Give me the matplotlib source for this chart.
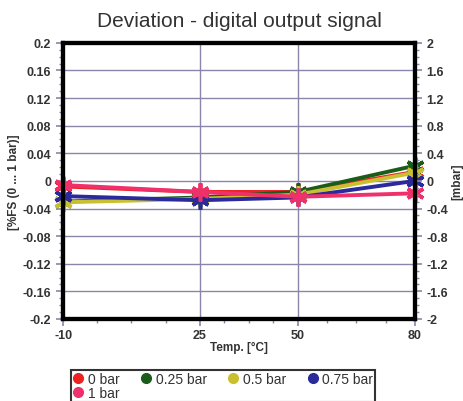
import numpy as np
import matplotlib
matplotlib.use("Agg")
import matplotlib.pyplot as plt
from matplotlib.ticker import FixedLocator

plt.rcParams["font.family"] = ["Liberation Sans", "DejaVu Sans"]
plt.rcParams["axes.unicode_minus"] = False

# ── Data ───────────────────────────────────────────────────────────────────────
temps = [-10, 25, 50, 80]
series_names = ["0 bar", "0.25 bar", "0.5 bar", "0.75 bar", "1 bar"]
dev_0bar = [-0.008, -0.016, -0.016, 0.013]
dev_025bar = [-0.030, -0.024, -0.016, 0.022]
dev_05bar = [-0.031, -0.026, -0.020, 0.012]
dev_075bar = [-0.022, -0.028, -0.024, 0.000]
dev_1bar = [-0.006, -0.016, -0.023, -0.018]
colors = ["#ee2222", "#1a5c1a", "#c8c030", "#2a2a9a", "#f0306a"]

left_ticks = [-0.2, -0.16, -0.12, -0.08, -0.04, 0, 0.04, 0.08, 0.12, 0.16, 0.2]
right_ticks = [-2, -1.6, -1.2, -0.8, -0.4, 0, 0.4, 0.8, 1.2, 1.6, 2]

series = [dev_0bar, dev_025bar, dev_05bar, dev_075bar, dev_1bar]

# ── Plot ───────────────────────────────────────────────────────────────────────
fig = plt.figure(figsize=(4.64, 4.02), dpi=100)
ax = fig.add_axes([0.136, 0.204, 0.758, 0.687])

grid_col = "#8a86a8"
txt_col = "#333333"
for y in left_ticks[1:-1]:
    ax.axhline(y, color=grid_col, lw=1.0, zorder=1)
for x in temps[1:-1]:
    ax.axvline(x, color=grid_col, lw=1.0, zorder=1)

for vals, c in zip(series, colors):
    ax.plot(temps, vals, color=c, lw=2.8, marker=(6, 2, 0), ms=13, mew=2.6,
            zorder=3, clip_on=False)

ax.set_xlim(-10, 80)
ax.set_ylim(-0.2, 0.2)
ax.set_xticks(temps)
ax.set_xticklabels([str(t) for t in temps])
ax.xaxis.set_minor_locator(FixedLocator([-1.25, 7.5, 16.25, 31.25, 37.5, 43.75,
                                         57.5, 65, 72.5]))
ax.set_yticks(left_ticks)
ax.set_yticklabels(["%g" % v for v in left_ticks])
ax.set_yticks(np.arange(-0.2, 0.2001, 0.01), minor=True)

for s in ax.spines.values():
    s.set_linewidth(3)
    s.set_color("black")

ax.tick_params(axis="both", which="major", length=5, width=1.2, color=grid_col,
               labelsize=9, labelcolor=txt_col)
ax.tick_params(axis="both", which="minor", length=3, width=1.0, color=grid_col)
ax.tick_params(axis="x", pad=2)
for lbl in ax.get_xticklabels() + ax.get_yticklabels():
    lbl.set_fontweight("bold")

ax2 = ax.twinx()
ax2.set_ylim(-2, 2)
ax2.set_yticks(right_ticks)
ax2.set_yticklabels(["%g" % v for v in right_ticks])
ax2.set_yticks(np.arange(-2, 2.001, 0.1), minor=True)
ax2.tick_params(axis="y", which="major", length=5, width=1.2, color=grid_col,
                labelsize=9, labelcolor=txt_col)
ax2.tick_params(axis="y", which="minor", length=3, width=1.0, color=grid_col)
for lbl in ax2.get_yticklabels():
    lbl.set_fontweight("bold")
for s in ax2.spines.values():
    s.set_linewidth(3)

ax.set_xlabel("Temp. [°C]", fontsize=8.5, fontweight="bold", color=txt_col,
              labelpad=0)
ax.set_ylabel("[%FS (0 ... 1 bar)]", fontsize=8.5, fontweight="bold",
              color=txt_col, labelpad=2)
ax2.set_ylabel("[mbar]", fontsize=8.5, fontweight="bold", color=txt_col,
               labelpad=2)
ax.set_title("Deviation - digital output signal", fontsize=15, color=txt_col,
             pad=12)

# legend: row-wise order 0, 0.25, 0.5, 0.75 / 1 bar
order = [0, 4, 1, 2, 3]
handles = [ax.plot([], [], ls="none", marker="o", ms=7, color=colors[i])[0]
           for i in order]
leg = fig.legend(handles, [series_names[i] for i in order], loc="upper left",
                 bbox_to_anchor=(0.152, 0.077), ncol=4, frameon=True,
                 fancybox=False, edgecolor="black", fontsize=10,
                 handlelength=0.8, handletextpad=0.3, columnspacing=1.5,
                 borderpad=0.15, labelspacing=0.0, borderaxespad=0)
leg.get_frame().set_linewidth(1.5)
for t in leg.get_texts():
    t.set_color(txt_col)

plt.savefig("out.png", dpi=100)
